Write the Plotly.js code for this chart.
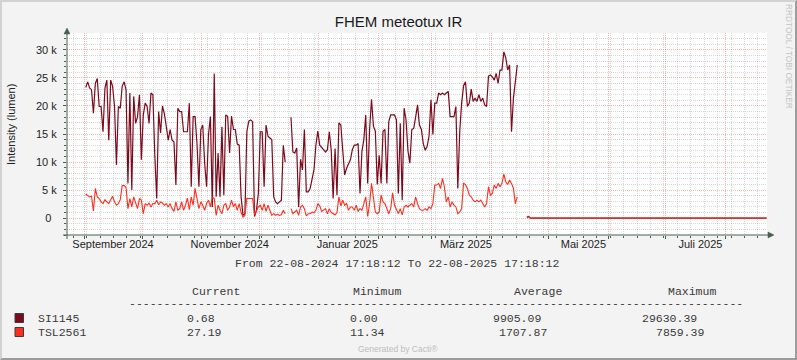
<!DOCTYPE html>
<html><head><meta charset="utf-8">
<script src="https://cdn.plot.ly/plotly-3.0.1.min.js"></script>
<style>
html,body{margin:0;padding:0;background:#F3F3F3;}
#wrap{position:relative;width:797px;height:360px;overflow:hidden;}
#chart{width:797px;height:360px;}
#frame{position:absolute;left:0;top:0;width:797px;height:360px;box-sizing:border-box;border-top:2px solid #D2D2D2;border-left:2px solid #D2D2D2;border-right:2px solid #9C9C9C;border-bottom:2px solid #9C9C9C;pointer-events:none;}
</style></head>
<body><div id="wrap"><div id="chart"></div><div id="frame"></div></div>
<script>
// ---- data (daily consolidated values, first day = 2024-09-01) ----
const firstDay = Date.UTC(2024, 8, 1, 12);
const si1145 = [
 23300,24300,23200,22900,18700,24000,24900,19900,19900,15400,
 23200,24600,13900,24600,23500,19900,9500,19900,19600,23500,
 24300,22900,6200,22300,5000,21700,16900,18100,22000,10400,
 18400,20500,19900,16900,22300,22000,11200,3500,19000,15200,
 20000,18600,16300,13900,15800,13900,13600,5900,19600,19000,
 19000,15400,15400,15400,20500,5600,18100,18100,13300,5600,
 15800,16600,9800,5600,14900,18100,2000,25800,3800,11600,
 3800,16300,4100,18400,18100,11600,18200,15800,15800,13200,
 13000,3800,500,800,15400,17300,17500,17200,300,1400,
 4400,15400,15400,5600,16600,14600,14300,14000,3800,2900,
 2600,2900,3200,13000,10000,null,null,18000,11800,11600,
 12500,2000,10500,8600,15800,4700,4700,5300,6800,8600,
 13000,15500,13000,12500,12200,11800,12200,15400,12100,3500,
 12400,4100,17000,16600,12700,7700,8900,9800,10400,12200,
 13000,13000,13300,4400,11900,14000,18400,6200,15800,21200,
 16400,15500,6000,11200,6200,15500,15800,6200,17200,18400,
 18400,18400,17500,4400,16900,3200,19600,17500,12000,9800,
 15800,16000,18000,20200,16600,15800,13300,12100,12800,14600,
 21100,14900,20500,20500,22300,22000,22300,22000,22300,22600,
 18100,18100,18100,19900,5300,15400,20500,23600,24300,19900,
 20500,23000,20800,21400,20800,22000,20800,21400,20200,19900,
 25300,25500,25200,24600,25800,24000,26400,26400,29630,28600,
 26400,27300,15400,21400,24300,27300];
const tsl2561 = [
 4300,4100,3800,3900,1300,5300,3800,3500,2900,2600,
 3300,2900,2600,3300,3900,2900,2300,2600,3300,5800,
 5800,5500,1700,3500,2000,3800,2900,1700,3500,3200,
 800,2600,2300,2700,2000,2600,2600,3200,2400,2900,
 2700,2300,2600,2000,2600,1700,1200,2900,1400,1700,
 2900,1400,2300,3600,1500,3800,2300,5300,3500,1700,
 2900,2300,1400,2600,3200,2000,3800,3500,500,2300,
 1400,800,2300,2600,1400,2000,3200,2000,2600,1400,
 2600,1000,200,500,3500,3500,3500,3500,600,1400,
 2000,2300,1400,2600,1200,2300,1400,500,800,500,
 700,500,600,1400,800,null,null,1700,800,1100,
 1400,500,2000,2300,1700,400,800,800,1100,1000,
 1400,2600,2200,1200,1400,1700,800,1700,1000,800,
 600,1000,3800,2200,3200,2300,2600,1400,2000,2000,
 1400,2300,1200,1700,1400,2600,3800,300,2600,6200,
 3800,1100,800,1100,4100,2900,2600,1700,800,1700,
 4500,2300,1400,800,1700,600,2000,2300,2000,2300,
 2600,2000,3800,2600,1700,1400,1400,1700,1400,2000,
 1700,2600,5900,5900,6200,5300,7100,5600,2900,3800,
 2000,2900,2300,2000,800,1100,1700,6200,6000,5300,
 4100,3800,3200,2900,3200,2900,3200,2600,2000,2600,
 5600,4100,4400,5900,5300,6200,5600,6200,7860,6500,
 6000,6800,6200,5300,2600,3800];
// later samples (after data outage)
const tailDates = ['2025-04-16 12:00','2025-04-19 12:00','2025-04-20 12:00','2025-04-21 12:00','2025-08-22 12:00'];
const tailSI = [null,150,300,0.68,0.68];
const tailTSL = [null,350,200,27.19,27.19];

const rangeStart = '2024-08-22 17:18:12';
const rangeEnd = '2025-08-22 17:18:12';
const monthStarts = ['2024-09-01','2024-10-01','2024-11-01','2024-12-01','2025-01-01','2025-02-01','2025-03-01','2025-04-01','2025-05-01','2025-06-01','2025-07-01','2025-08-01'];
const monthLabelDates = ['2024-09-15 17:00','2024-11-15 14:00','2025-01-15 20:00','2025-03-18 17:00','2025-05-19 00:00','2025-07-19 00:00'];
const monthLabels = ['September 2024','November 2024','Januar 2025','März 2025','Mai 2025','Juli 2025'];
const yTickVals = [0,5000,10000,15000,20000,25000,30000];
const yTickText = ['0\u2002','5 k','10 k','15 k','20 k','25 k','30 k'];

const legendNames = ['SI1145','TSL2561'];
const legendColors = ['#7C0A1C','#FF2D1E'];
const statCurrent = ['0.68','27.19'];
const statMinimum = ['0.00','11.34'];
const statAverage = ['9905.09','1707.87'];
const statMaximum = ['29630.39','7859.39'];

// ---- build ----
function dayStr(i){ return new Date(firstDay + i*86400000).toISOString().slice(0,16).replace('T',' '); }
const mainDates = si1145.map((_, i) => dayStr(i));
const xs = mainDates.concat(tailDates);

const L = 67, R = 767, T = 33, B = 235;
const W = R - L, H = B - T;
const px = x => (x - L) / W;
const py = y => (B - y) / H;

const axisColor = '#45604F';
const minorGrid = 'rgba(165,165,165,0.45)';
const majorGrid = 'rgba(232,120,120,0.55)';

const minorY = [];
for (let v = -3000; v <= 33000; v += 1000) if (v % 5000 !== 0) minorY.push(v);

const traces = [
 {x: xs, y: si1145.concat(tailSI), type:'scatter', mode:'lines', line:{color:legendColors[0], width:1.2}, connectgaps:false, hoverinfo:'skip'},
 {x: xs, y: tsl2561.concat(tailTSL), type:'scatter', mode:'lines', line:{color:legendColors[1], width:1.1}, connectgaps:false, hoverinfo:'skip'},
 {x: [], y: [], xaxis:'x2', yaxis:'y', type:'scatter', mode:'lines', hoverinfo:'skip'}
];

const mono = 'Liberation Mono, Courier New, monospace';
const monoFont = {family: mono, size: 11.5, color: '#3A3A3A'};
const ann = [];
function txt(text, x, y, font, extra){ ann.push(Object.assign({text, xref:'paper', yref:'paper', x:px(x), y:py(y), xanchor:'left', yanchor:'middle', showarrow:false, font}, extra||{})); }

ann.push({text:'Intensity (lumen)', xref:'paper', yref:'paper', x:px(11), y:py(125), xanchor:'center', yanchor:'middle', textangle:-90, showarrow:false, font:{family:'Liberation Sans, Arial, sans-serif', size:11, color:'#222'}});
ann.push({text:'RRDTOOL / TOBI OETIKER', xref:'paper', yref:'paper', x:px(789), y:py(56), xanchor:'center', yanchor:'middle', textangle:90, showarrow:false, font:{family:'Liberation Sans, Arial, sans-serif', size:8.3, color:'#C4C4C4'}});
txt('From 22-08-2024 17:18:12 To 22-08-2025 17:18:12', 233, 263, monoFont);
txt('Current', 190, 291, monoFont);
txt('Minimum', 351, 291, monoFont);
txt('Average', 512, 291, monoFont);
txt('Maximum', 666, 291, monoFont);
txt('-'.repeat(89), 127, 303, monoFont);
const rowY = [318, 332];
for (let i = 0; i < 2; i++) {
  txt(legendNames[i], 36, rowY[i], monoFont);
  txt(statCurrent[i], 185, rowY[i], monoFont);
  txt(statMinimum[i], 348, rowY[i], monoFont);
}
txt(statAverage[0], 491, rowY[0], monoFont);
txt(statAverage[1], 497, rowY[1], monoFont);
txt(statMaximum[0], 640, rowY[0], monoFont);
txt(statMaximum[1], 654, rowY[1], monoFont);
ann.push({text:'Generated by Cacti®', xref:'paper', yref:'paper', x:px(398), y:py(349.5), xanchor:'center', yanchor:'middle', showarrow:false, font:{family:'Liberation Sans, Arial, sans-serif', size:8.5, color:'#BDBDBD'}});

const shapes = [
 {type:'line', xref:'paper', yref:'paper', x0:px(63), x1:px(770), y0:py(235), y1:py(235), line:{color:axisColor, width:1}},
 {type:'path', xref:'paper', yref:'paper', path:`M ${px(768)},${py(232)} L ${px(774)},${py(235)} L ${px(768)},${py(238)} Z`, fillcolor:axisColor, line:{color:axisColor, width:0.5}},
 {type:'line', xref:'paper', yref:'paper', x0:px(67), x1:px(67), y0:py(239), y1:py(32), line:{color:axisColor, width:1}},
 {type:'path', xref:'paper', yref:'paper', path:`M ${px(64)},${py(34)} L ${px(67)},${py(28)} L ${px(70)},${py(34)} Z`, fillcolor:axisColor, line:{color:axisColor, width:0.5}}
];
for (let i = 0; i < 2; i++) {
  shapes.push({type:'rect', xref:'paper', yref:'paper', x0:px(15), x1:px(23.5), y0:py(rowY[i]-4.5), y1:py(rowY[i]+4.5), fillcolor:legendColors[i], line:{color:'#3A3A3A', width:1}});
}

const layout = {
  width:797, height:360,
  paper_bgcolor:'#F3F3F3', plot_bgcolor:'#FFFFFF',
  margin:{l:L, r:797-R, t:T, b:360-B, pad:0},
  showlegend:false,
  font:{family:'Liberation Sans, Arial, sans-serif', size:11, color:'#222'},
  title:{text:'FHEM meteotux IR', x:0.5, xref:'container', xanchor:'center', y:1-22/360, yref:'container', yanchor:'middle', font:{family:'Liberation Sans, Arial, sans-serif', size:15, color:'#1A1A1A'}},
  xaxis:{type:'date', range:[rangeStart, rangeEnd], tickmode:'array', tickvals:monthLabelDates, ticktext:monthLabels,
    showgrid:false, zeroline:false, showline:false, ticks:'', tickfont:{size:11, color:'#1E1E1E'}, ticklabelstandoff:1,
    minor:{tickmode:'array', tickvals:monthStarts, showgrid:true, gridcolor:majorGrid, griddash:'1px,1px', gridwidth:1, ticks:'outside', ticklen:3, tickcolor:axisColor}},
  xaxis2:{type:'date', overlaying:'x', anchor:'y', side:'bottom', range:[rangeStart, rangeEnd], tickmode:'linear', tick0:'2024-08-26', dtick:7*86400000,
    showgrid:true, gridcolor:minorGrid, griddash:'1px,1px', gridwidth:1, showticklabels:false, ticks:'outside', ticklen:2, tickcolor:axisColor, zeroline:false, showline:false},
  yaxis:{range:[-3000, 33000], tickmode:'array', tickvals:yTickVals, ticktext:yTickText, showgrid:true, gridcolor:majorGrid, griddash:'1px,1px', gridwidth:1,
    zeroline:false, showline:false, ticks:'outside', ticklen:3, tickcolor:axisColor, tickfont:{size:11, color:'#1E1E1E'}, ticklabelstandoff:4,
    minor:{tickmode:'array', tickvals:minorY, showgrid:true, gridcolor:minorGrid, griddash:'1px,1px', gridwidth:1, ticks:'outside', ticklen:2, tickcolor:axisColor}},
  annotations:ann,
  shapes:shapes
};

Plotly.newPlot('chart', traces, layout, {displayModeBar:false, staticPlot:true});
</script>
</body></html>
